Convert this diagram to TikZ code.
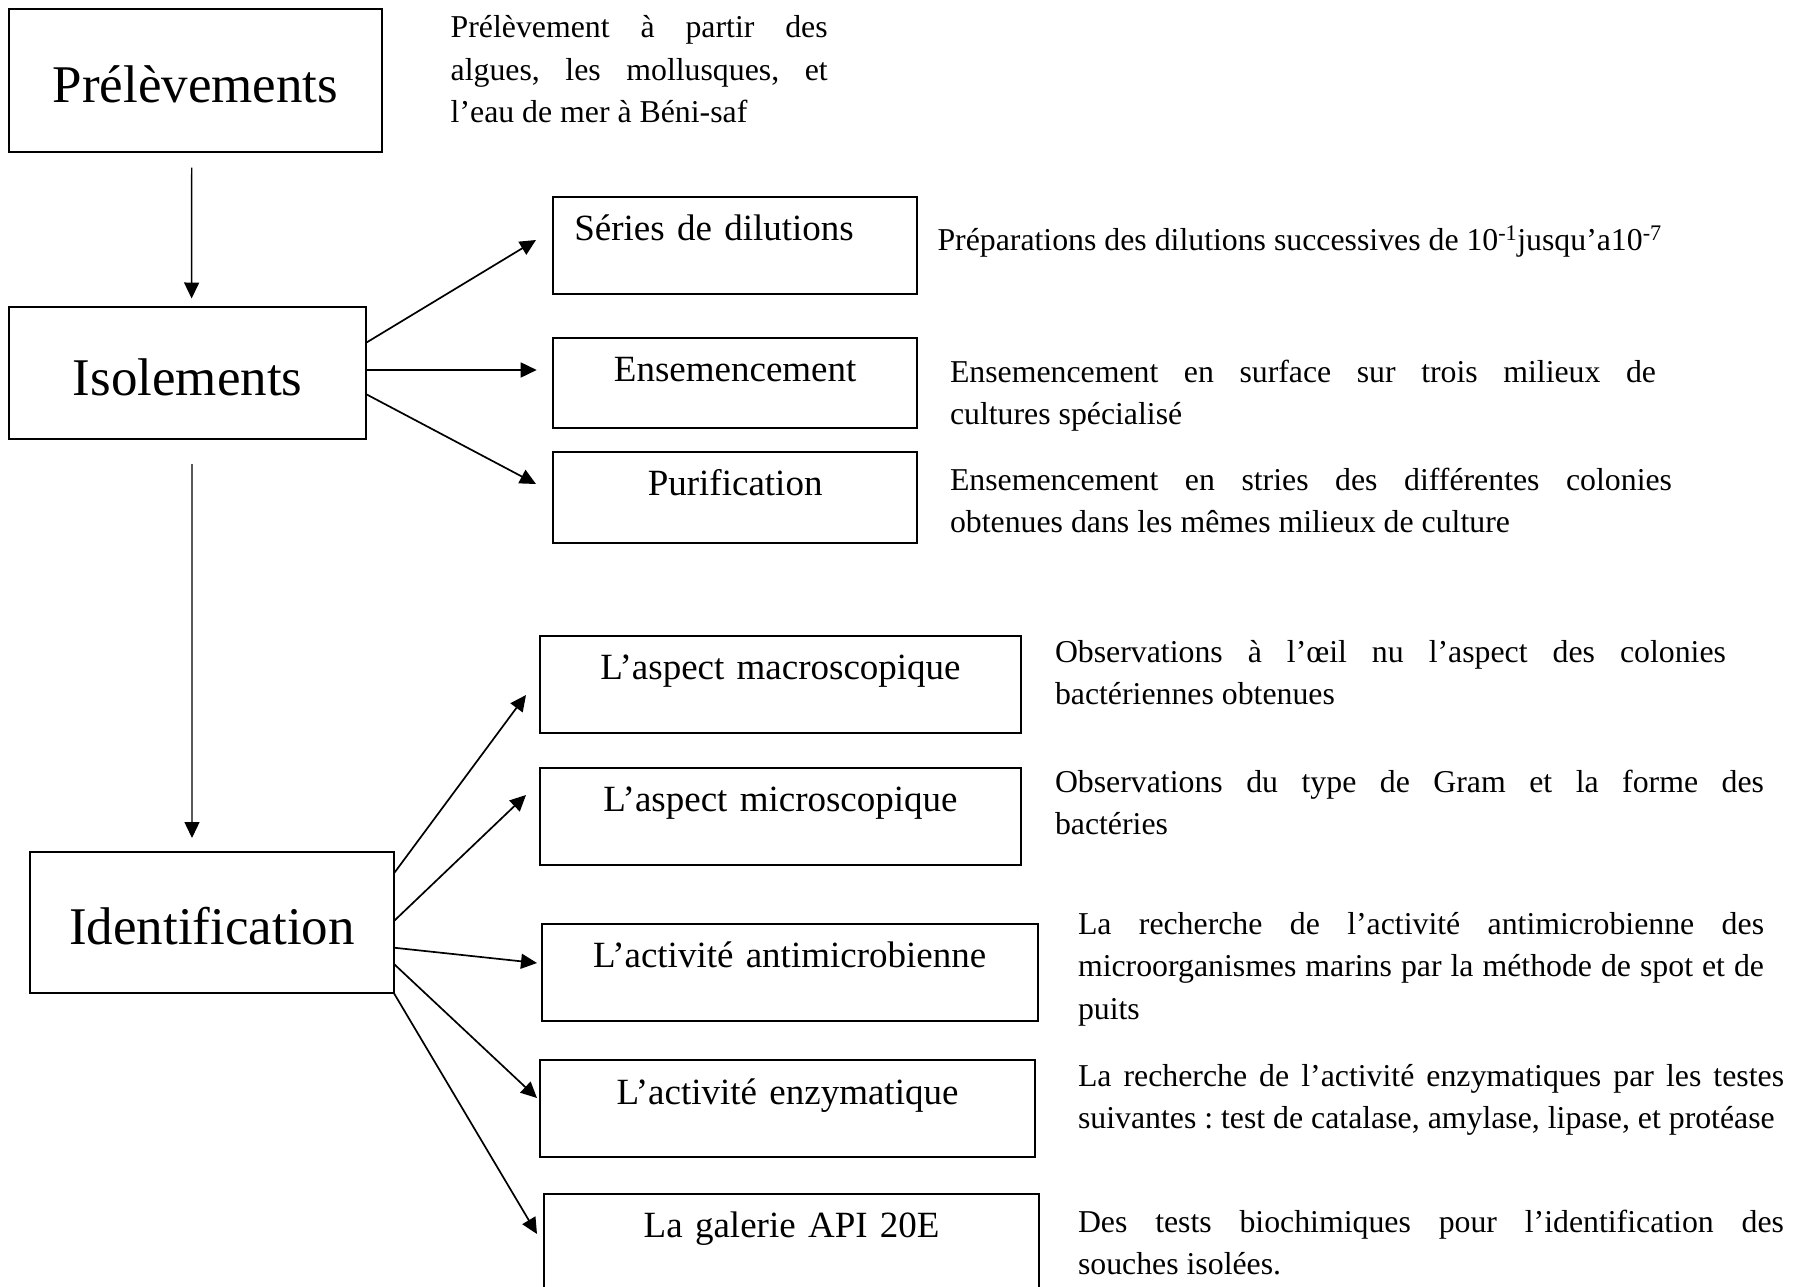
\documentclass[tikz,border=0pt]{standalone}
\usepackage{fontspec}
\setmainfont{Liberation Serif}
\usetikzlibrary{arrows.meta,calc}
\frenchspacing
\newcommand{\jl}[1]{\makebox[\linewidth][s]{#1}}
\newcommand{\desctext}[2]{\parbox[t]{#1}{\fontsize{31.8pt}{42.5pt}\selectfont #2}}
\begin{document}
\begin{tikzpicture}[x=1pt,y=-1pt,
  bigbox/.style={draw, line width=2pt, inner sep=0pt, outer sep=0pt, anchor=north west,
    font=\fontsize{53pt}{60pt}\selectfont, text height=44pt, text depth=0pt},
  smallbox/.style={draw, line width=2pt, inner sep=0pt, outer sep=0pt, anchor=north west,
    font=\fontsize{37pt}{44pt}\selectfont, text height=44pt, align=center},
  desc/.style={anchor=base west, inner sep=0pt, outer sep=0pt},
  arr/.style={-{Triangle[length=16pt,width=15pt]}, line width=1.7pt},
  varr/.style={-{Triangle[length=16pt,width=15pt]}, line width=1.4pt}]
\fill[white] (0,0) rectangle (1793,1287);
\useasboundingbox (0,0) rectangle (1793,1287);

% main boxes
\node[bigbox, minimum width=373pt, minimum height=142.7pt] (prel) at (9,9) {Prélèvements};
\node[bigbox, minimum width=357.3pt, minimum height=132.3pt] (isol) at (9,307) {Isolements};
\node[bigbox, minimum width=364pt, minimum height=141pt] (ident) at (30,852.3) {Identification};

% step boxes
\node[smallbox, align=left, inner xsep=21pt, text width=321.7pt, text depth=53.3pt] (ser) at (553.3,196.7) {Séries de dilutions};
\node[smallbox, text width=363.7pt, text depth=46.3pt] (ens) at (553.3,337.7) {Ensemencement};
\node[smallbox, text width=363.7pt, text depth=47pt] (pur) at (553.3,451.7) {Purification};
\node[smallbox, text width=481pt, text depth=53pt] (macro) at (540,635.7) {L’aspect macroscopique};
\node[smallbox, text width=481pt, text depth=53.3pt] (micro) at (540,767.7) {L’aspect microscopique};
\node[smallbox, text width=495.8pt, text depth=52.7pt] (anti) at (541.7,923.8) {L’activité antimicrobienne};
\node[smallbox, text width=495pt, text depth=53pt] (enz) at (540,1060) {L’activité enzymatique};
\node[smallbox, text width=494.7pt, text depth=76pt] (api) at (544.3,1193.6) {La galerie API 20E};

% descriptions
\node[desc] (dprel) at (450.7,38) {\desctext{377pt}{\jl{Prélèvement à partir des}\\\jl{algues, les mollusques, et}\\l’eau de mer à Béni-saf}};
\node[desc] (dser) at (937.5,250) {\desctext{760pt}{Préparations des dilutions successives de 10\textsuperscript{-1}jusqu’a10\textsuperscript{-7}}};
\node[desc] (dens) at (950,382) {\desctext{706pt}{\jl{Ensemencement en surface sur trois milieux de}\\cultures spécialisé}};
\node[desc] (dpur) at (950,490) {\desctext{722pt}{\jl{Ensemencement en stries des différentes colonies}\\obtenues dans les mêmes milieux de culture}};
\node[desc] (dmacro) at (1055,662) {\desctext{671pt}{\jl{Observations à l’œil nu l’aspect des colonies}\\bactériennes obtenues}};
\node[desc] (dmicro) at (1055,792) {\desctext{709pt}{\jl{Observations du type de Gram et la forme des}\\bactéries}};
\node[desc] (danti) at (1078,934) {\desctext{686pt}{\jl{La recherche de l’activité antimicrobienne des}\\\jl{microorganismes marins par la méthode de spot et de}\\puits}};
\node[desc] (denz) at (1078,1086) {\desctext{706pt}{\jl{La recherche de l’activité enzymatiques par les testes}\\suivantes : test de catalase, amylase, lipase, et protéase}};
\node[desc] (dapi) at (1078,1232) {\desctext{706pt}{\jl{Des tests biochimiques pour l’identification des}\\souches isolées.}};

% connectors
\draw[varr] ($(prel.south)+(-3.8,16)$) -- ($(isol.north)+(4,-8.5)$);
\draw[varr] ($(isol.south)+(4.3,24.7)$) -- ($(ident.north)+(-20,-14.3)$);

\draw[arr] ($(isol.east)+(0,-30.5)$) -- ($(ser.west)+(-17.3,-5.35)$);
\draw[arr] ($(isol.east)+(0,-3.2)$) -- ($(ens.west)+(-16.6,-12.85)$);
\draw[arr] ($(isol.east)+(0,21.1)$) -- ($(pur.west)+(-17.3,-13.2)$);

\draw[arr] ($(ident.east)+(0,-49.5)$) -- ($(macro.west)+(-14,10.8)$);
\draw[arr] ($(ident.east)+(0,-1.8)$) -- ($(micro.west)+(-14,-21.35)$);
\draw[arr] ($(ident.east)+(0,24.9)$) -- ($(anti.west)+(-4.7,-9.15)$);
\draw[arr] ($(ident.east)+(0,41.2)$) -- ($(enz.west)+(-3,-10.5)$);
\draw[arr] (ident.south east) -- ($(api.north west)+(-7.3,40.4)$);
\end{tikzpicture}
\end{document}
